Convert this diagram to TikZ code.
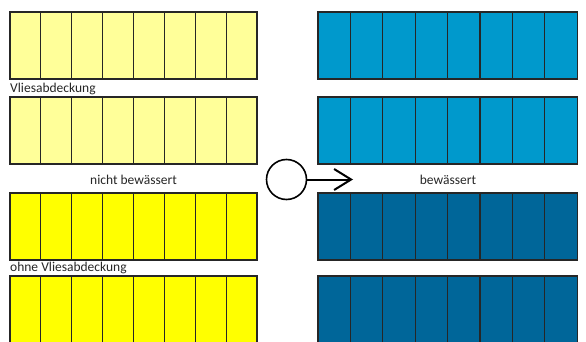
\documentclass[tikz,border=0pt]{standalone}
\usepackage{fontspec}
\setmainfont{Carlito}
\usepackage{xcolor}
\usetikzlibrary{positioning,calc,arrows.meta}
\definecolor{palegelb}{HTML}{FFFF99}
\definecolor{gelb}{HTML}{FFFF00}
\definecolor{hellblau}{HTML}{0099CC}
\definecolor{dunkelblau}{HTML}{006699}
\tikzset{
  beet/.style={draw=black!85,line width=1.2pt},
  label/.style={font=\fontsize{13.5}{15}\selectfont,text=black!85,inner sep=0pt}
}

\begin{document}
\begin{tikzpicture}[x=1pt,y=-1pt]
        \useasboundingbox (0,0) rectangle (586,342);
        \clip (0,0) rectangle (586,342);
        % linke Seite: nicht bewaessert
        \foreach \y/\c in {12/palegelb, 97/palegelb, 193/gelb, 276/gelb} {
            \foreach \i in {0,...,7} {
                \draw[beet,fill=\c] (10+\i*30.875,\y) rectangle (10+\i*30.875+30.875,\y+67);
            }
        }
        % rechte Seite: bewaessert
        \foreach \y/\c in {12/hellblau, 97/hellblau, 193/dunkelblau, 276/dunkelblau} {
            \foreach \i in {0,...,7} {
                \draw[beet,fill=\c] (318+\i*32.4,\y) rectangle (318+\i*32.4+32.4,\y+67);
            }
        }
        \node[label,anchor=west] (vlies) at (10,88.5) {Vliesabdeckung};
        \node[label,anchor=west] (ohne) at (10,267.5) {ohne Vliesabdeckung};
        \node[label] (nicht) at (133.5,179.5) {nicht bewässert};
        \node[label] (bew) at (448,179.5) {bewässert};
        \node[draw=black,line width=1.6pt,circle,minimum size=40pt,inner sep=0pt] (kreis) at (286.5,179.5) {};
        \coordinate (spitze) at (353,179.5);
        \draw[line width=2pt,-{Straight Barb[length=17pt,width=21pt]}] (kreis.east) -- (spitze);
    \end{tikzpicture}
\end{document}
